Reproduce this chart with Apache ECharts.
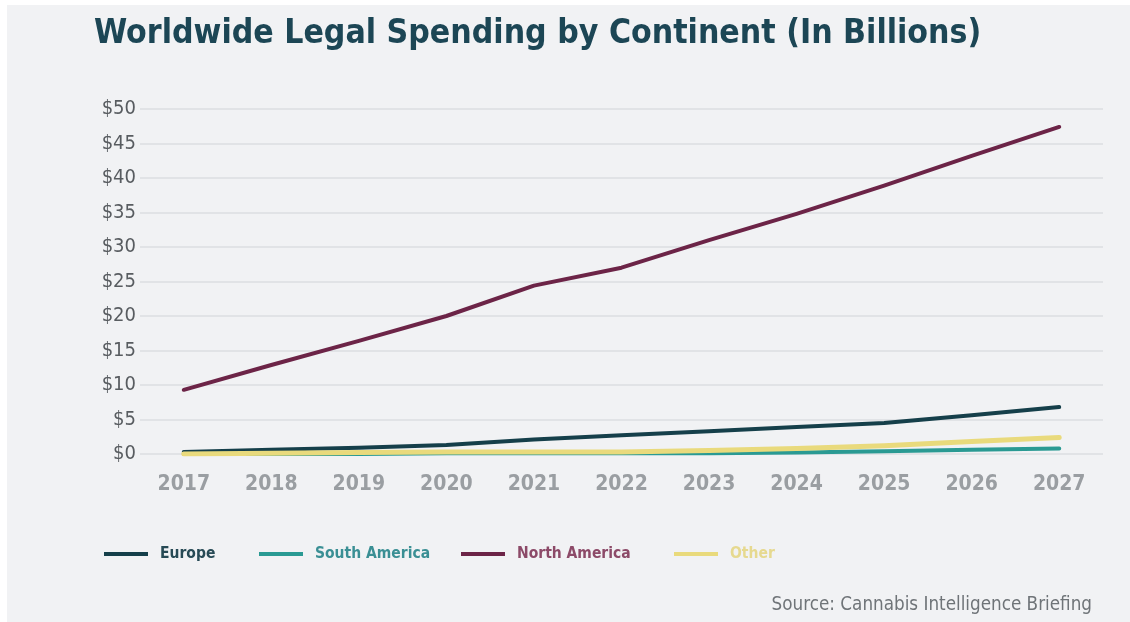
<!DOCTYPE html>
<html>
<head>
<meta charset="utf-8">
<script src="https://cdn.jsdelivr.net/npm/echarts@6/dist/echarts.min.js"></script>
<style>
  html, body { margin: 0; padding: 0; background: #ffffff; }
  #panel { position: absolute; left: 7px; top: 5px; width: 1123px; height: 617px; background: #f1f2f4; }
  #chart { position: absolute; left: -7px; top: -5px; width: 1130px; height: 622px; }
</style>
</head>
<body>
<div id="panel"><div id="chart"></div></div>
<script>
// Legal spending by continent, billions of USD
const years = ['2017','2018','2019','2020','2021','2022','2023','2024','2025','2026','2027'];
const europe       = [0.3, 0.6, 0.9, 1.3, 2.1, 2.7, 3.3, 3.9, 4.5, 5.6, 6.8];
const southAmerica = [0.0, 0.0, 0.0, 0.1, 0.1, 0.1, 0.1, 0.2, 0.4, 0.6, 0.8];
const northAmerica = [9.3, 12.9, 16.4, 20.0, 24.4, 27.0, 31.0, 34.8, 38.9, 43.2, 47.4];
const other        = [0.0, 0.1, 0.2, 0.3, 0.3, 0.3, 0.5, 0.8, 1.2, 1.8, 2.4];
const yTicks = [0, 5, 10, 15, 20, 25, 30, 35, 40, 45, 50];

const condensed = '"DejaVu Sans Condensed", "Liberation Sans Narrow", Roboto, sans-serif';

const colors = {
  europe: '#153f4a',
  south: '#2a9a93',
  north: '#6c2447',
  other: '#e9da7c'
};
const legendTextColors = {
  europe: '#274a55',
  south: '#3a8f94',
  north: '#8c4a68',
  other: '#e6d98f'
};

function lineSeries(name, data, color, width) {
  return {
    name: name,
    type: 'line',
    data: data,
    symbol: 'none',
    smooth: false,
    lineStyle: { color: color, width: width, cap: 'round', join: 'round' },
    itemStyle: { color: color }
  };
}

// one legend block per series so each entry sits at its own x offset
function legendEntry(name, left, textColor) {
  return {
    left: left,
    top: 546,
    itemWidth: 44,
    itemHeight: 4,
    icon: 'rect',
    padding: 0,
    textStyle: {
      fontFamily: condensed,
      fontSize: 15.5,
      fontWeight: 'bold',
      color: textColor,
      padding: [0, 0, 0, 7]
    },
    data: [name]
  };
}

const chart = echarts.init(document.getElementById('chart'), null, { renderer: 'canvas' });
chart.setOption({
  backgroundColor: 'transparent',
  animation: false,
  title: {
    text: 'Worldwide Legal Spending by Continent (In Billions)',
    left: 89,
    top: 12,
    textStyle: { fontFamily: condensed, fontSize: 33.5, fontWeight: 'bold', color: '#1c4655' }
  },
  graphic: [{
    type: 'text',
    right: 38,
    top: 596,
    style: {
      text: 'Source: Cannabis Intelligence Briefing',
      font: '18.7px ' + condensed,
      fill: '#6f7478'
    }
  }],
  legend: [
    legendEntry('Europe', 104, legendTextColors.europe),
    legendEntry('South America', 259, legendTextColors.south),
    legendEntry('North America', 461, legendTextColors.north),
    legendEntry('Other', 674, legendTextColors.other)
  ],
  grid: { left: 140, right: 27, top: 109, bottom: 168, containLabel: false },
  xAxis: {
    type: 'category',
    data: years,
    boundaryGap: ['4.5%', '4.5%'],
    axisLine: { show: false },
    axisTick: { show: false },
    axisLabel: {
      margin: 20,
      fontFamily: condensed,
      fontSize: 21,
      fontWeight: 'bold',
      color: '#9a9ea2'
    }
  },
  yAxis: {
    type: 'value',
    min: yTicks[0],
    max: yTicks[yTicks.length - 1],
    interval: 5,
    axisLine: { show: false },
    axisTick: { show: false },
    splitLine: { lineStyle: { color: '#e1e3e6', width: 2 } },
    axisLabel: {
      margin: 4,
      fontFamily: condensed,
      fontSize: 20,
      color: '#585c60',
      formatter: v => '$' + v
    }
  },
  series: [
    lineSeries('Europe', europe, colors.europe, 4),
    lineSeries('South America', southAmerica, colors.south, 4),
    lineSeries('North America', northAmerica, colors.north, 4),
    lineSeries('Other', other, colors.other, 5)
  ]
});
</script>
</body>
</html>
